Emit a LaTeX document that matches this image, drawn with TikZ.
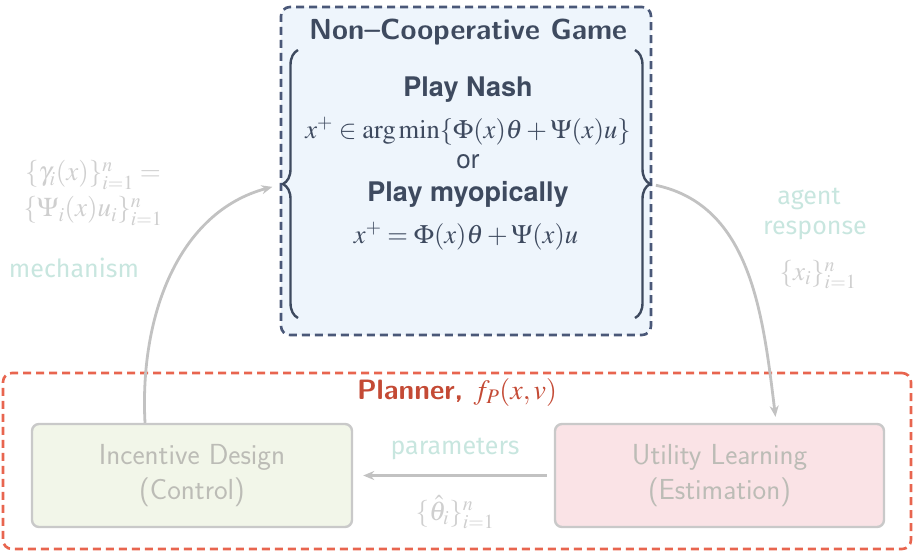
\documentclass[tikz,border=0pt]{standalone}
\usepackage{mathptmx}
\usepackage{fontspec}
\newfontfamily\herosfont{TeX Gyre Heros}
\newfontfamily\firafont{Fira Sans}
\usetikzlibrary{positioning,arrows.meta,decorations.pathreplacing}

\definecolor{gameedge}{HTML}{4A5878}
\definecolor{gamefill}{HTML}{EEF5FC}
\definecolor{gametext}{HTML}{3E4A5F}
\definecolor{planneredge}{HTML}{E8654F}
\definecolor{plannertext}{HTML}{C44A35}
\definecolor{controlfill}{HTML}{F2F6E9}
\definecolor{learnfill}{HTML}{FAE3E6}
\definecolor{boxedge}{HTML}{C9C9C9}
\definecolor{boxtext}{HTML}{BCBCB6}
\definecolor{tealtext}{HTML}{C8E6DF}
\definecolor{mathgray}{HTML}{CFCFCF}
\definecolor{flowgray}{HTML}{C2C2C2}

\tikzset{
  gamebox/.style={draw=gameedge, fill=gamefill, line width=2.6pt, dash pattern=on 8pt off 5pt,
    rounded corners=9pt, minimum width=370pt, minimum height=328pt, inner sep=0pt},
  plannerbox/.style={draw=planneredge, line width=2.6pt, dash pattern=on 8pt off 5pt,
    rounded corners=9pt, minimum width=908pt, minimum height=176pt, inner sep=0pt},
  stagebox/.style={draw=boxedge, line width=2.4pt, rounded corners=7pt, text=boxtext,
    align=center, font=\fontsize{29}{35}\selectfont\sffamily, inner sep=0pt},
  gamehead/.style={text=gametext, font=\fontsize{29}{32}\selectfont\sffamily\bfseries},
  playhead/.style={text=gametext, font=\fontsize{27}{30}\selectfont\herosfont\bfseries},
  gamemath/.style={text=gametext, font=\fontsize{26.5}{30}\selectfont},
  gamebrace/.style={draw=gametext, line width=2.4pt, decorate,
    decoration={brace, amplitude=15pt}},
  flowlabel/.style={text=tealtext, font=\fontsize{25}{28}\selectfont\firafont},
  flowmath/.style={text=mathgray, font=\fontsize{27}{30}\selectfont},
  flow/.style={draw=flowgray, line width=2.8pt, -{Stealth[length=11pt,width=9pt]}}
}

\begin{document}
\begin{tikzpicture}[x=1pt,y=-1pt]
\useasboundingbox (0,0) rectangle (913,552);

% the game played by the agents
\node[gamebox] (game) at (466,171) {};
\node[gamehead] (gametitle) at (468,32) {Non--Cooperative Game};
\draw[gamebrace] (298,318) -- (298,50);
\draw[gamebrace] (635,50) -- (635,318);
\coordinate (lbrace) at (283,184);
\coordinate (rbrace) at (650,184);
\node[playhead] (nash) at (468,90) {Play Nash};
\node[gamemath] (nasheq) at (468,131) {$x^+\in\arg\min\{\Phi(x)\theta+\Psi(x)u\}$};
\node[gametext, font=\fontsize{26}{30}\selectfont\herosfont] (or) at (468,162) {or};
\node[playhead] (myopic) at (468,194) {Play myopically};
\node[gamemath] (myopiceq) at (466,236) {$x^+=\Phi(x)\theta+\Psi(x)u$};

% the planner
\node[plannerbox] (planner) at (457,461) {};
\node[text=plannertext, font=\fontsize{28}{32}\selectfont\sffamily\bfseries] (plannertitle) at (457,392)
  {Planner, {\mdseries$f_P(x,v)$}};
\node[stagebox, fill=controlfill, minimum width=320pt, minimum height=103pt] (incentive) at (192,475.5)
  {Incentive Design\\(Control)};
\node[stagebox, fill=learnfill, minimum width=329pt, minimum height=103pt] (utility) at (719.5,475.5)
  {Utility Learning\\(Estimation)};

% loop
\draw[flow, shorten >=11pt] ([xshift=-47pt]incentive.north) to[out=93,in=195] (lbrace);
\draw[flow, shorten <=6pt] (rbrace) to[out=-12,in=97] ([xshift=56pt,yshift=6pt]utility.north);
\draw[flow, shorten <=7pt, shorten >=10pt] (utility.west) -- (incentive.east);

% labels on the loop
\node[flowmath] (gammas) at (93,175) {$\{\gamma_i(x)\}_{i=1}^n=$};
\node[flowmath] (psis) at (93,211) {$\{\Psi_i(x)u_i\}_{i=1}^n$};
\node[flowlabel] (mechanism) at (74,268) {mechanism};
\node[flowlabel] (agent) at (809,199) {agent};
\node[flowlabel] (response) at (815,230) {response};
\node[flowmath] (xs) at (818,275) {$\{x_i\}_{i=1}^n$};
\node[flowlabel] (parameters) at (455,449) {parameters};
\node[flowmath] (thetas) at (455,512) {$\{\hat\theta_i\}_{i=1}^n$};

\end{tikzpicture}
\end{document}
